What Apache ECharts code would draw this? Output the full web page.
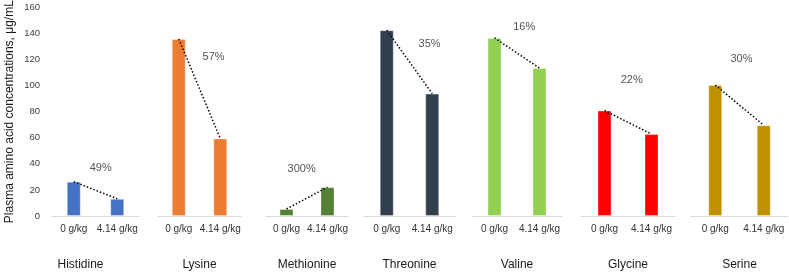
<!DOCTYPE html>
<html>
<head>
    <meta charset="utf-8">
    <style>
        body{
            margin:0;
            padding:0;
            background:#fff;
        }
        #chart{
            width: 789px;
            height: 276px;
        }
    </style>
</head>
<body>
    <div id="chart"></div>
    <script src="https://cdn.jsdelivr.net/npm/echarts@6/dist/echarts.min.js"></script>
    <script>
        // data
        var aminoAcids = ["Histidine", "Lysine", "Methionine", "Threonine", "Valine", "Glycine", "Serine"];
        var doses = ["0 g/kg", "4.14 g/kg"];
        var control = [26.3, 133.8, 5.3, 140.4, 134.6, 79.7, 99.0];
        var treated = [13.2, 58.6, 21.8, 92.5, 111.8, 61.9, 68.6];
        var changeText = ["49%", "57%", "300%", "35%", "16%", "22%", "30%"];
        var yTicks = { min: 0, max: 160, step: 20 };
    </script>
    <script>
        var chart = echarts.init(document.getElementById("chart"));

        var colors = ["#4472C4", "#ED7D31", "#548235", "#323F4F", "#92D050", "#FF0000", "#BF9000"];
        // panel layout (pixels) and where the % text sits (x as fraction of panel, y in data units)
        var panels = [
            { left: 52,  width: 87, top: 7.3, bottom: 56, tx: 0.56, ty: 36.8, namePad: 30 },
            { left: 158, width: 83, top: 4.3, bottom: 59, tx: 0.67, ty: 120.5, namePad: 0 },
            { left: 266, width: 82, top: 4.3, bottom: 59, tx: 0.435, ty: 35.3, namePad: 0 },
            { left: 364, width: 91, top: 4.3, bottom: 59, tx: 0.72, ty: 130.3, namePad: 0 },
            { left: 472, width: 90, top: 4.3, bottom: 59, tx: 0.58, ty: 142.6, namePad: 0 },
            { left: 581, width: 94, top: 4.3, bottom: 59, tx: 0.54, ty: 103, namePad: 0 },
            { left: 691, width: 97, top: 4.3, bottom: 59, tx: 0.52, ty: 118.6, namePad: 0 }
        ];

        var option = {
            animation: false,
            textStyle: { fontFamily: "Liberation Sans, Arial, sans-serif" },
            grid: [], xAxis: [], yAxis: [], series: []
        };

        for (var i = 0; i < aminoAcids.length; i++) {
            var p = panels[i];
            option.grid.push({ left: p.left, width: p.width, top: p.top, bottom: p.bottom });
            option.xAxis.push({
                type: "category",
                gridIndex: i,
                data: doses,
                axisLine: { lineStyle: { color: "#d9d9d9", width: 1 } },
                axisTick: { show: false },
                axisLabel: { fontSize: 10, color: "#333", margin: 8, interval: 0 },
                name: aminoAcids[i],
                nameLocation: "middle",
                nameGap: 43,
                nameTextStyle: { fontSize: 12, color: "#1a1a1a", padding: [0, p.namePad, 0, 0] }
            });
            option.xAxis.push({ type: "value", gridIndex: i, min: 0, max: 1, show: false });
            option.yAxis.push({
                type: "value",
                gridIndex: i,
                min: yTicks.min,
                max: yTicks.max,
                interval: yTicks.step,
                splitLine: { show: false },
                axisLine: { show: false },
                axisTick: { show: false },
                axisLabel: { show: i === 0, fontSize: 9.5, color: "#404040", margin: 12 },
                name: i === 0 ? "Plasma amino acid concentrations, μg/mL" : "",
                nameLocation: "middle",
                nameGap: 36,
                nameTextStyle: { fontSize: 12, color: "#1a1a1a" }
            });

            option.series.push({
                type: "bar",
                xAxisIndex: 2 * i,
                yAxisIndex: i,
                barWidth: 14,
                itemStyle: { color: colors[i], borderColor: "rgba(255,255,255,0.35)", borderWidth: 1 },
                data: [control[i], treated[i]]
            });
            option.series.push({
                type: "line",
                xAxisIndex: 2 * i,
                yAxisIndex: i,
                symbol: "none",
                z: 5,
                lineStyle: { color: "#000", width: 1.5, type: [1.5, 2] },
                data: [control[i], treated[i]]
            });
            option.series.push({
                type: "scatter",
                xAxisIndex: 2 * i + 1,
                yAxisIndex: i,
                symbolSize: 0,
                label: {
                    show: true,
                    position: "inside",
                    formatter: changeText[i],
                    fontSize: 11,
                    color: "#262626"
                },
                data: [[p.tx, p.ty]]
            });
        }

        chart.setOption(option);
    </script>
</body>
</html>
